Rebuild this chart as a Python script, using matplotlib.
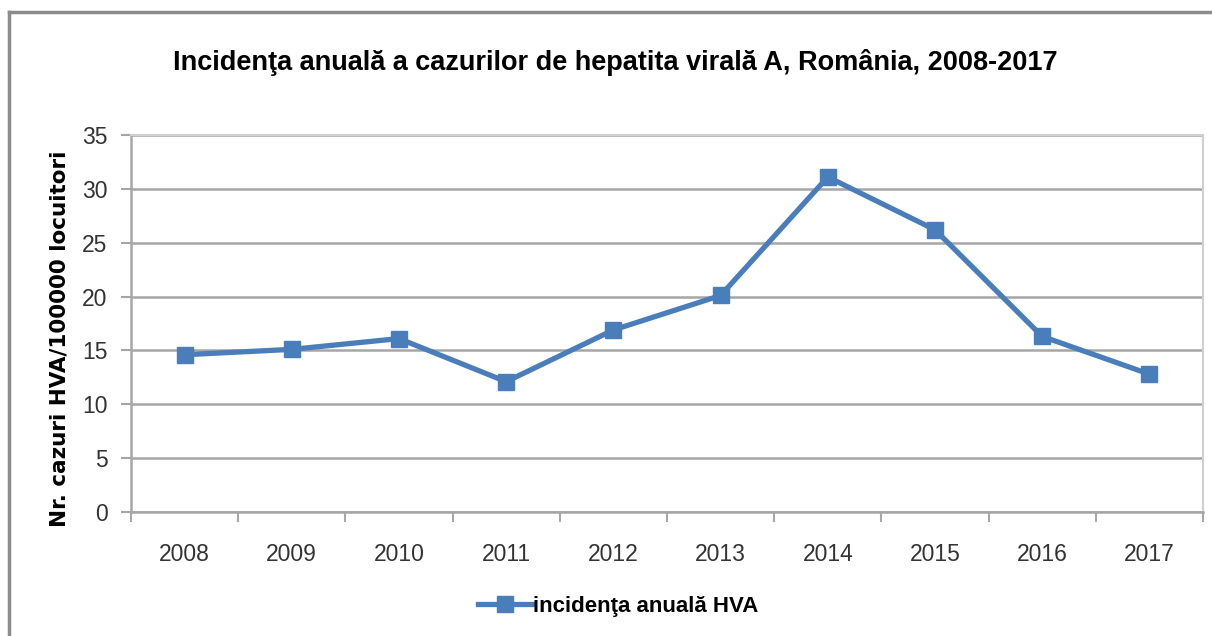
import matplotlib
matplotlib.use("Agg")
import matplotlib.pyplot as plt
from matplotlib.lines import Line2D
import numpy as np

# =========================
# DATA
# =========================
years = ["2008", "2009", "2010", "2011", "2012", "2013", "2014", "2015", "2016", "2017"]
incidence = [14.6, 15.1, 16.1, 12.1, 16.9, 20.1, 31.1, 26.2, 16.3, 12.8]
y_ticks = [0, 5, 10, 15, 20, 25, 30, 35]

title = "Incidenţa anuală a cazurilor de hepatita virală A, România, 2008-2017"
y_label = "Nr. cazuri HVA/100000 locuitori"
series_name = "incidenţa anuală HVA"

narrow = ["Liberation Sans Narrow", "Liberation Sans", "DejaVu Sans"]
blue = "#4a7ebb"
grid_gray = "#a6a6a6"

# =========================
# FIGURE
# =========================
fig = plt.figure(figsize=(12.12, 6.36), dpi=100)
ax = fig.add_axes([131 / 1212, 1 - 512 / 636, (1203 - 131) / 1212, (512 - 135) / 636])

x = np.arange(len(years))
ax.plot(x, incidence, color=blue, lw=3.8, marker="s", markersize=11,
        markerfacecolor=blue, markeredgecolor=blue, zorder=3)

ax.set_xlim(-0.5, len(years) - 0.5)
ax.set_ylim(0, 35)
ax.set_yticks(y_ticks)
ax.set_yticklabels([str(t) for t in y_ticks], family=narrow, fontsize=16.5, color="#333333")

# categories centred, tick marks on boundaries
ax.set_xticks(np.arange(-0.5, len(years), 1))
ax.set_xticklabels([])
ax.set_xticks(x, minor=True)
ax.set_xticklabels(years, minor=True, family=narrow, fontsize=16.5, color="#333333")
ax.tick_params(axis="x", which="major", direction="out", length=7, width=1.5, color=grid_gray)
ax.tick_params(axis="x", which="minor", length=0, pad=22)
ax.tick_params(axis="y", direction="out", length=7, width=1.5, color=grid_gray, pad=10)

ax.yaxis.grid(True, color=grid_gray, lw=1.8)
ax.set_axisbelow(True)
for side in ["left", "bottom"]:
    ax.spines[side].set_color(grid_gray)
    ax.spines[side].set_linewidth(1.8)
for side in ["right", "top"]:
    ax.spines[side].set_color("#d0d0d0")
    ax.spines[side].set_linewidth(1.5)

ax.set_ylabel(y_label, fontsize=15.5, fontweight="bold", family=["DejaVu Sans"])
ax.yaxis.set_label_coords(-0.057, 0.46)

fig.text(0.508, 0.902, title, ha="center", va="center", family=narrow,
         fontsize=19.5, fontweight="bold", color="#000000")

# legend
handle = Line2D([], [], color=blue, lw=3.8, marker="s", markersize=11)
leg = fig.legend([handle], [series_name], loc="center", bbox_to_anchor=(0.51, 0.047),
                 frameon=False, handlelength=2.5, handletextpad=0.0,
                 prop={"family": narrow, "size": 16, "weight": "bold"})

# outer chart frame (left/top edges)
fig.add_artist(Line2D([9 / 1212, 9 / 1212], [0, 1 - 12 / 636], color="#8c8c8c", lw=2.5,
                      transform=fig.transFigure))
fig.add_artist(Line2D([9 / 1212, 1], [1 - 12 / 636, 1 - 12 / 636], color="#8c8c8c", lw=2.5,
                      transform=fig.transFigure))

fig.savefig("out.png", dpi=100)
